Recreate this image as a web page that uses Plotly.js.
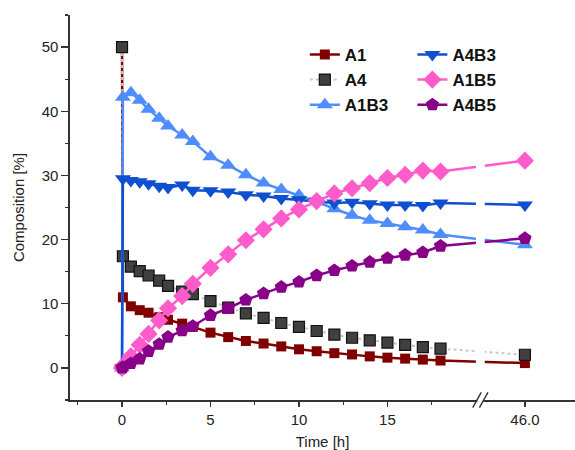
<!DOCTYPE html>
<html>
<head>
<meta charset="utf-8">
<script src="https://cdn.plot.ly/plotly-3.0.1.min.js"></script>
<style>html,body{margin:0;padding:0;background:#fff;} #chart{width:575px;height:450px;}</style>
</head>
<body>
<div id="chart"></div>
<script>
// Time points [h]
const times = [0, 0.05, 0.5, 1, 1.5, 2.1, 2.6, 3.4, 4, 5, 6, 7, 8, 9, 10, 11, 12, 13, 14, 15, 16, 17, 18, 46];
// Composition [%]
const A1   = [50, 11.0, 9.6, 9.0, 8.6, 7.9, 7.5, 6.9, 6.4, 5.5, 4.8, 4.2, 3.8, 3.35, 2.9, 2.6, 2.3, 2.1, 1.8, 1.6, 1.45, 1.3, 1.15, 0.75];
const A4   = [50, 17.4, 15.8, 15.1, 14.4, 13.6, 12.8, 11.9, 11.5, 10.4, 9.4, 8.5, 7.8, 7.0, 6.4, 5.75, 5.2, 4.7, 4.3, 3.95, 3.6, 3.25, 3.0, 2.05];
const A1B3 = [0, 42.2, 42.9, 41.7, 40.3, 38.9, 37.7, 36.3, 35.3, 32.9, 31.6, 30.1, 28.8, 27.8, 26.9, 25.9, 24.8, 23.8, 23.0, 22.5, 22.0, 21.5, 20.8, 19.2];
const A4B3 = [0, 29.5, 29.2, 29.0, 28.7, 28.3, 28.1, 28.5, 27.7, 27.6, 27.4, 27.0, 26.8, 26.4, 26.2, 26.0, 25.7, 25.8, 25.6, 25.4, 25.4, 25.3, 25.7, 25.4];
const A1B5 = [0, 0.3, 1.8, 3.6, 5.3, 7.4, 9.3, 11.2, 13.1, 15.6, 17.7, 19.9, 21.6, 23.3, 24.7, 26.0, 27.2, 28.0, 28.8, 29.6, 30.1, 30.75, 30.6, 32.3];
const A4B5 = [0, 0.1, 0.7, 1.4, 2.6, 3.7, 4.8, 5.8, 6.5, 8.2, 9.3, 10.6, 11.6, 12.6, 13.4, 14.4, 15.2, 15.9, 16.5, 17.1, 17.6, 18.0, 19.0, 20.2];

// x-axis tick labels
const xTickTimes = [0, 5, 10, 15, 46];
const xTickLabels = ['0', '5', '10', '15', '46.0'];
const xMinorTimes = [-2.5, 2.5, 7.5, 12.5, 17.5];

// Axis break: times beyond the break are shifted left onto the axis
const BREAK_AT = 20;
const AXIS_SHIFT = 23.23;
const toAxis = t => (t > BREAK_AT ? t - AXIS_SHIFT : t);
const X = times.map(toAxis);

function tr(name, y, color, symbol, size, opts) {
  opts = opts || {};
  return {
    x: X, y: y, name: name, type: 'scatter', mode: 'lines+markers',
    legend: opts.legend || 'legend',
    line: {color: opts.lineColor || color, width: opts.lineWidth || 2.5, dash: opts.dash || 'solid'},
    marker: {color: color, symbol: symbol, size: size,
             line: {color: opts.mlc || color, width: opts.mlw || 0}},
    cliponaxis: false
  };
}

const traces = [
  tr('A1', A1, '#800000', 'square', 10),
  tr('A4', A4, '#404040', 'square', 11, {lineColor: '#c8c8c8', dash: 'dot', lineWidth: 2, mlc: '#111111', mlw: 1.2}),
  tr('A1B3', A1B3, '#4f8dfd', 'triangle-up', 14),
  tr('A4B3', A4B3, '#0f50d0', 'triangle-down', 14, {legend: 'legend2'}),
  tr('A1B5', A1B5, '#ff5ccb', 'diamond', 14, {legend: 'legend2'}),
  tr('A4B5', A4B5, '#880088', 'pentagon', 14, {legend: 'legend2'})
];

const axisColor = '#333333';
const tickFont = {family: 'Arial, Liberation Sans, sans-serif', size: 15, color: '#222'};
const gapL = toAxis(20.0), gapR = 20.5;
const legendFont = {family: 'Arial, Liberation Sans, sans-serif', size: 17, color: '#111', weight: 'bold'};

const layout = {
  width: 575, height: 450,
  margin: {l: 70, r: 0, t: 15, b: 50, pad: 0},
  paper_bgcolor: '#ffffff', plot_bgcolor: '#ffffff',
  showlegend: true,
  xaxis: {
    range: [-2.94, 25.6],
    tickmode: 'array', tickvals: xTickTimes.map(toAxis), ticktext: xTickLabels,
    ticks: 'outside', ticklen: 5, tickwidth: 1.3, tickcolor: axisColor,
    minor: {tickmode: 'array', tickvals: xMinorTimes, ticks: 'outside', ticklen: 3, tickwidth: 1.3, tickcolor: axisColor},
    showline: true, linecolor: axisColor, linewidth: 1.6,
    showgrid: false, zeroline: false,
    tickfont: tickFont,
    title: {text: 'Time [h]', font: tickFont, standoff: 10}
  },
  yaxis: {
    range: [-5, 55],
    tickmode: 'linear', tick0: 0, dtick: 10,
    ticks: 'outside', ticklen: 7, tickwidth: 1.3, tickcolor: axisColor,
    minor: {tick0: 0, dtick: 5, ticks: 'outside', ticklen: 3, tickwidth: 1.3, tickcolor: axisColor},
    showline: true, linecolor: axisColor, linewidth: 1.6,
    showgrid: false, zeroline: false,
    tickfont: tickFont,
    title: {text: 'Composition [%]', font: tickFont, standoff: 13}
  },
  legend: {
    x: 0.465, y: 0.943, xanchor: 'left', yanchor: 'top',
    bgcolor: 'rgba(0,0,0,0)', borderwidth: 0,
    font: legendFont, tracegroupgap: 0, itemwidth: 30
  },
  legend2: {
    x: 0.678, y: 0.943, xanchor: 'left', yanchor: 'top',
    bgcolor: 'rgba(0,0,0,0)', borderwidth: 0,
    font: legendFont, tracegroupgap: 0, itemwidth: 30
  },
  shapes: [
    // gap in the data lines at the axis break
    {type: 'rect', xref: 'x', yref: 'y', x0: gapL, x1: gapR, y0: -4, y1: 54,
     fillcolor: '#ffffff', line: {width: 0}, layer: 'above'},
    // gap in the axis line
    {type: 'rect', xref: 'x', yref: 'paper', x0: 20.08, x1: 20.42, y0: -0.008, y1: 0.008,
     fillcolor: '#ffffff', line: {width: 0}, layer: 'above'},
    // break marks //
    {type: 'line', xref: 'x', yref: 'paper', x0: 19.82, x1: 20.3, y0: -0.02, y1: 0.02,
     line: {color: axisColor, width: 1.4}, layer: 'above'},
    {type: 'line', xref: 'x', yref: 'paper', x0: 20.2, x1: 20.68, y0: -0.02, y1: 0.02,
     line: {color: axisColor, width: 1.4}, layer: 'above'}
  ]
};

Plotly.newPlot('chart', traces, layout, {displayModeBar: false, staticPlot: true});
</script>
</body>
</html>
